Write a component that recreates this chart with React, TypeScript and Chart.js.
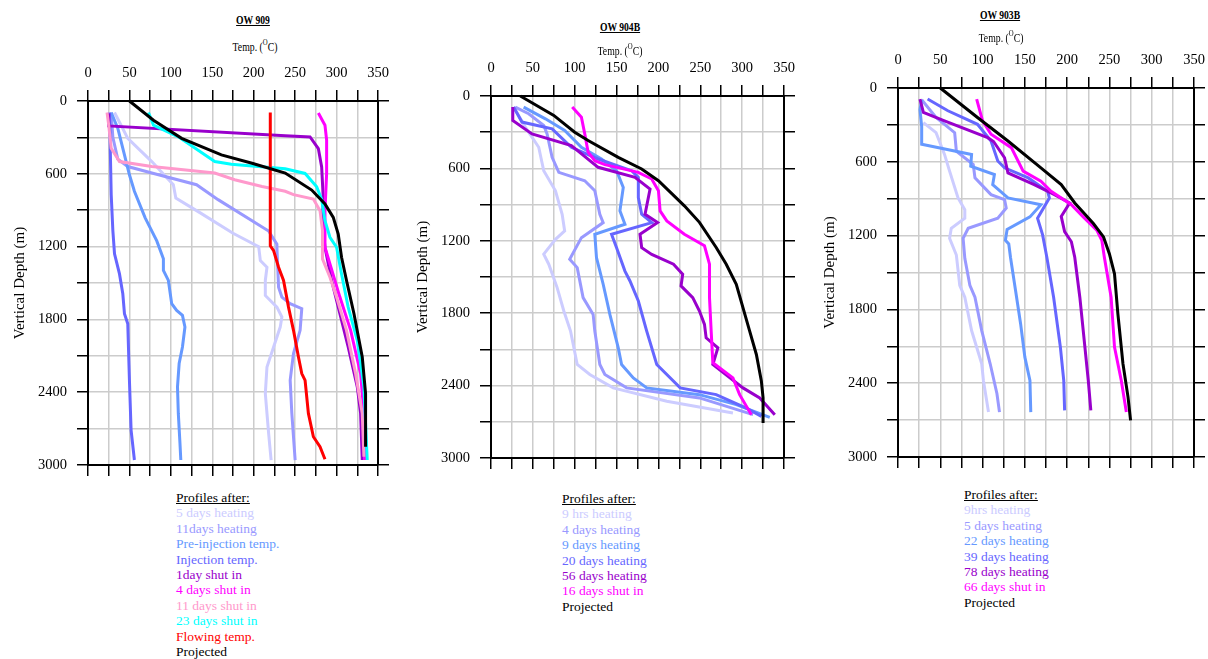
import React, { useEffect, useRef } from "react";
import { Chart, registerables } from "chart.js";

Chart.register(...registerables);

// ---------- axis config values ----------
const TEMP_MIN = 0;
const TEMP_MAX = 350;
const TEMP_STEP = 25;
const TEMP_LABEL_EVERY = 50;
const DEPTH_MIN = 0;
const DEPTH_MAX = 3000;
const DEPTH_STEP = 300;
const DEPTH_LABEL_EVERY = 600;

// ---------- colours ----------
const C_LAV1 = "#ccccff";
const C_LAV2 = "#9999ff";
const C_CORN = "#6699ff";
const C_SLATE = "#6666ff";
const C_PURPLE = "#9900cc";
const C_MAG = "#ff00ff";
const C_PINK = "#ff99cc";
const C_CYAN = "#00ffff";
const C_RED = "#ff0000";
const C_BLACK = "#000000";

// ---------- OW 909 : [temp °C, depth m] ----------
const OW909_5D_HEAT: [number, number][] = [[32,95],[48,308],[77,499],[103,690],[106,800],[135,920],[175,1090],[206,1200],[208,1315],[216,1370],[214,1479],[214,1603],[228,1699],[234,1781],[232,1863],[224,2027],[216,2192],[214,2411],[218,2740],[221,2959]];
const OW909_11D_HEAT: [number, number][] = [[28,95],[30,300],[36,480],[48,540],[77,594],[131,690],[157,813],[218,1072],[228,1181],[228,1205],[230,1534],[234,1616],[244,1671],[258,1712],[256,1890],[248,2082],[244,2301],[246,2575],[250,2959]];
const OW909_PRE_INJ: [number, number][] = [[28,95],[36,226],[44,444],[50,608],[56,744],[69,963],[83,1153],[91,1301],[91,1397],[97,1479],[101,1671],[107,1726],[114,1767],[117,1863],[114,2027],[110,2164],[108,2356],[109,2575],[111,2822],[112,2959]];
const OW909_INJ: [number, number][] = [[26,95],[28,771],[30,1068],[32,1260],[38,1425],[42,1589],[44,1753],[48,1836],[50,2301],[52,2712],[56,2959]];
const OW909_1D_SHUT: [number, number][] = [[25,104],[25,205],[238,286],[268,296],[278,392],[282,543],[284,811],[283,1000],[286,1205],[294,1479],[304,1753],[314,2027],[325,2356],[329,2575],[331,2959]];
const OW909_4D_SHUT: [number, number][] = [[278,99],[286,200],[288,323],[288,597],[286,900],[286,1205],[292,1342],[304,1616],[317,1890],[329,2247],[333,2575],[334,2959]];
const OW909_11D_SHUT: [number, number][] = [[23,95],[25,199],[28,390],[38,499],[77,540],[153,594],[177,649],[210,704],[238,744],[248,772],[272,808],[280,904],[283,1068],[283,1301],[292,1452],[300,1616],[312,1890],[323,2247],[331,2575],[333,2932]];
const OW909_23D_SHUT: [number, number][] = [[73,95],[79,199],[109,295],[153,499],[173,521],[238,559],[262,597],[276,707],[282,811],[286,986],[292,1123],[300,1205],[306,1425],[314,1699],[325,1973],[333,2356],[337,2959]];
const OW909_FLOWING: [number, number][] = [[220,95],[220,1194],[224,1233],[230,1370],[236,1479],[242,1699],[248,1890],[254,2110],[258,2247],[262,2302],[266,2575],[272,2767],[280,2849],[286,2953]];
const OW909_PROJ: [number, number][] = [[50,0],[79,158],[113,308],[161,444],[198,513],[238,594],[270,734],[286,849],[296,959],[302,1096],[306,1288],[312,1479],[321,1753],[331,2110],[335,2411],[335,2849]];

// ---------- OW 904B ----------
const OW904_9H_HEAT: [number, number][] = [[27,92],[41,258],[57,425],[63,619],[77,785],[85,980],[88,1118],[77,1188],[63,1311],[69,1394],[79,1588],[87,1782],[95,1948],[103,2225],[118,2308],[146,2419],[210,2530],[289,2627]];
const OW904_4D_HEAT: [number, number][] = [[29,92],[45,147],[63,244],[67,314],[73,508],[81,633],[112,702],[124,785],[130,980],[134,1049],[108,1174],[94,1354],[103,1422],[110,1671],[122,1810],[124,1948],[130,2225],[136,2308],[162,2419],[249,2502],[313,2641]];
const OW904_9D_HEAT: [number, number][] = [[39,92],[65,189],[88,286],[108,425],[132,522],[150,619],[158,758],[154,952],[160,1063],[124,1146],[126,1339],[134,1560],[142,1810],[152,2087],[156,2225],[170,2336],[186,2419],[249,2475],[293,2558],[333,2663]];
const OW904_20D_HEAT: [number, number][] = [[27,92],[37,216],[73,272],[96,425],[128,522],[168,619],[176,674],[176,841],[180,980],[192,1049],[144,1146],[150,1257],[160,1451],[166,1533],[176,1699],[186,1948],[198,2225],[226,2419],[269,2475],[305,2586],[323,2655]];
const OW904_56D_HEAT: [number, number][] = [[26,92],[26,203],[49,314],[96,411],[128,591],[172,674],[190,771],[184,980],[199,1049],[178,1146],[180,1257],[192,1313],[218,1394],[229,1477],[227,1574],[241,1671],[249,1782],[255,1893],[257,2004],[271,2087],[265,2225],[301,2419],[321,2502],[339,2641]];
const OW904_16D_SHUT: [number, number][] = [[97,92],[108,175],[112,314],[116,466],[124,536],[136,569],[176,633],[192,688],[200,785],[202,952],[210,1035],[231,1146],[255,1241],[261,1394],[261,1671],[263,1948],[265,2211],[289,2336],[297,2475],[311,2641]];
const OW904_PROJ: [number, number][] = [[35,0],[75,161],[100,300],[116,369],[152,508],[180,605],[200,702],[231,910],[249,1047],[269,1255],[281,1394],[293,1560],[309,1948],[317,2142],[323,2364],[325,2502],[325,2710]];

// ---------- OW 903B ----------
const OW903_9H_HEAT: [number, number][] = [[30,281],[45,363],[55,540],[61,676],[71,894],[79,990],[79,1058],[63,1140],[61,1222],[69,1358],[73,1604],[79,1701],[87,1972],[99,2242],[101,2378],[107,2635]];
const OW903_5D_HEAT: [number, number][] = [[28,95],[45,240],[67,363],[69,513],[89,622],[91,731],[110,867],[126,908],[128,976],[118,1058],[83,1140],[77,1222],[79,1385],[85,1604],[91,1701],[99,1972],[109,2242],[117,2486],[120,2635]];
const OW903_22D_HEAT: [number, number][] = [[28,95],[26,177],[28,313],[28,458],[87,540],[86,635],[114,704],[112,785],[130,894],[169,949],[156,1048],[129,1150],[127,1238],[131,1268],[133,1376],[139,1647],[145,1918],[150,2188],[156,2378],[157,2635]];
const OW903_39D_HEAT: [number, number][] = [[35,90],[59,185],[94,295],[110,431],[118,594],[126,649],[154,731],[177,840],[179,894],[165,1058],[171,1194],[176,1376],[184,1701],[192,2107],[196,2378],[197,2621]];
const OW903_78D_HEAT: [number, number][] = [[26,90],[30,199],[55,267],[106,404],[113,435],[126,567],[130,690],[161,785],[185,867],[203,935],[193,1044],[197,1167],[205,1250],[209,1376],[215,1701],[221,2107],[225,2378],[228,2621]];
const OW903_66D_SHUT: [number, number][] = [[93,90],[100,267],[110,376],[134,485],[148,676],[169,758],[181,840],[205,949],[219,1048],[235,1156],[241,1238],[244,1376],[252,1701],[256,2107],[264,2378],[270,2635]];
const OW903_PROJ: [number, number][] = [[50,0],[94,240],[130,431],[169,649],[193,785],[209,935],[231,1102],[243,1211],[250,1349],[256,1511],[260,1836],[266,2242],[272,2513],[275,2702]];

type Series = { label: string; color: string; pts: [number, number][] };
type PanelCfg = {
  title: string;
  titlePos: [number, number];
  tempPos: [number, number];
  plot: { l: number; t: number; r: number; b: number };
  legendPos: [number, number];
  series: Series[];
};

const PANELS: PanelCfg[] = [
  {
    title: "OW 909",
    titlePos: [253, 20],
    tempPos: [255, 46],
    plot: { l: 88, t: 101, r: 378, b: 465 },
    legendPos: [176, 490],
    series: [
      { label: "5 days heating", color: C_LAV1, pts: OW909_5D_HEAT },
      { label: "11days heating", color: C_LAV2, pts: OW909_11D_HEAT },
      { label: "Pre-injection temp.", color: C_CORN, pts: OW909_PRE_INJ },
      { label: "Injection temp.", color: C_SLATE, pts: OW909_INJ },
      { label: "1day shut in", color: C_PURPLE, pts: OW909_1D_SHUT },
      { label: "4 days shut in", color: C_MAG, pts: OW909_4D_SHUT },
      { label: "11 days shut in", color: C_PINK, pts: OW909_11D_SHUT },
      { label: "23 days shut in", color: C_CYAN, pts: OW909_23D_SHUT },
      { label: "Flowing temp.", color: C_RED, pts: OW909_FLOWING },
      { label: "Projected", color: C_BLACK, pts: OW909_PROJ },
    ],
  },
  {
    title: "OW 904B",
    titlePos: [620, 27],
    tempPos: [620, 50],
    plot: { l: 491, t: 96, r: 784, b: 458 },
    legendPos: [562, 491],
    series: [
      { label: "9 hrs heating", color: C_LAV1, pts: OW904_9H_HEAT },
      { label: "4 days heating", color: C_LAV2, pts: OW904_4D_HEAT },
      { label: "9 days heating", color: C_CORN, pts: OW904_9D_HEAT },
      { label: "20 days heating", color: C_SLATE, pts: OW904_20D_HEAT },
      { label: "56 days heating", color: C_PURPLE, pts: OW904_56D_HEAT },
      { label: "16 days shut in", color: C_MAG, pts: OW904_16D_SHUT },
      { label: "Projected", color: C_BLACK, pts: OW904_PROJ },
    ],
  },
  {
    title: "OW 903B",
    titlePos: [1000, 15],
    tempPos: [1001, 37],
    plot: { l: 898, t: 88, r: 1194, b: 457 },
    legendPos: [964, 487],
    series: [
      { label: "9hrs heating", color: C_LAV1, pts: OW903_9H_HEAT },
      { label: "5 days heating", color: C_LAV2, pts: OW903_5D_HEAT },
      { label: "22 days heating", color: C_CORN, pts: OW903_22D_HEAT },
      { label: "39 days heating", color: C_SLATE, pts: OW903_39D_HEAT },
      { label: "78 days heating", color: C_PURPLE, pts: OW903_78D_HEAT },
      { label: "66 days shut in", color: C_MAG, pts: OW903_66D_SHUT },
      { label: "Projected", color: C_BLACK, pts: OW903_PROJ },
    ],
  },
];

const LEFT_W = 88;
const TOP_H = 45;
const RIGHT_W = 14;
const BOTTOM_H = 14;
const SERIF = '"Liberation Serif", "Times New Roman", serif';
const GRID_COLOR = "#cccccc";
const TICK_LEN = 11;

function ChartPanel({ p }: { p: PanelCfg }) {
  const ref = useRef<HTMLCanvasElement | null>(null);
  const w = p.plot.r - p.plot.l + LEFT_W + RIGHT_W;
  const h = p.plot.b - p.plot.t + TOP_H + BOTTOM_H;

  useEffect(() => {
    if (!ref.current) return;
    const tickFont = { family: SERIF, size: 14.5 };
    const gridBase = { color: GRID_COLOR, lineWidth: 1.5, tickColor: "#000", tickLength: TICK_LEN, tickWidth: 1.5 };
    const border = { color: "#000", width: 2 };
    const n = p.series.length;
    const chart = new Chart(ref.current, {
      type: "scatter",
      data: {
        datasets: p.series.map((s, i) => ({
          label: s.label,
          data: s.pts.map(([x, y]) => ({ x, y })),
          borderColor: s.color,
          backgroundColor: s.color,
          showLine: true,
          pointRadius: 0,
          pointHoverRadius: 0,
          borderWidth: 3,
          tension: 0,
          order: n - i,
          clip: false as any,
        })),
      },
      options: {
        responsive: false,
        animation: false,
        maintainAspectRatio: false,
        layout: { padding: 0 },
        events: [],
        plugins: { legend: { display: false }, tooltip: { enabled: false }, title: { display: false } },
        scales: {
          x: {
            type: "linear",
            position: "top",
            min: TEMP_MIN,
            max: TEMP_MAX,
            ticks: {
              stepSize: TEMP_STEP,
              autoSkip: false,
              maxRotation: 0,
              padding: 8.5,
              color: "#000",
              font: tickFont,
              callback: (v: any) => (Number(v) % TEMP_LABEL_EVERY === 0 ? String(v) : ""),
            },
            grid: { ...gridBase },
            border,
            afterFit: (s: any) => { s.height = TOP_H; s.paddingLeft = 0; s.paddingRight = 0; },
          },
          x2: {
            type: "linear",
            position: "bottom",
            min: TEMP_MIN,
            max: TEMP_MAX,
            ticks: { stepSize: TEMP_STEP, autoSkip: false, display: false },
            grid: { ...gridBase, drawOnChartArea: false },
            border,
            afterFit: (s: any) => { s.height = BOTTOM_H; s.paddingLeft = 0; s.paddingRight = 0; },
          },
          y: {
            type: "linear",
            position: "left",
            reverse: true,
            min: DEPTH_MIN,
            max: DEPTH_MAX,
            ticks: {
              stepSize: DEPTH_STEP,
              autoSkip: false,
              padding: 10,
              color: "#000",
              font: tickFont,
              callback: (v: any) => (Number(v) % DEPTH_LABEL_EVERY === 0 ? String(v) : ""),
            },
            grid: { ...gridBase },
            border,
            title: {
              display: true,
              text: "Vertical Depth (m)",
              color: "#000",
              font: { family: SERIF, size: 15 },
              padding: { top: 11, bottom: 0 },
            },
            afterFit: (s: any) => { s.width = LEFT_W; s.paddingTop = 0; s.paddingBottom = 0; },
          },
          y2: {
            type: "linear",
            position: "right",
            reverse: true,
            min: DEPTH_MIN,
            max: DEPTH_MAX,
            ticks: { stepSize: DEPTH_STEP, autoSkip: false, display: false },
            grid: { ...gridBase, drawOnChartArea: false },
            border,
            afterFit: (s: any) => { s.width = RIGHT_W; s.paddingTop = 0; s.paddingBottom = 0; },
          },
        },
      } as any,
    });
    return () => chart.destroy();
  }, []);

  return (
    <>
      <canvas
        ref={ref}
        width={w}
        height={h}
        style={{ position: "absolute", left: p.plot.l - LEFT_W, top: p.plot.t - TOP_H, width: w, height: h }}
      />
      <div
        style={{
          position: "absolute",
          left: p.titlePos[0],
          top: p.titlePos[1],
          transform: "translate(-50%, -50%) scaleX(0.74)",
          font: `bold 13px ${SERIF}`,
          textDecoration: "underline",
          whiteSpace: "nowrap",
          color: "#000",
        }}
      >
        {p.title}
      </div>
      <div
        style={{
          position: "absolute",
          left: p.tempPos[0],
          top: p.tempPos[1],
          transform: "translate(-50%, -50%) scaleX(0.75)",
          font: `13px ${SERIF}`,
          whiteSpace: "nowrap",
          color: "#000",
        }}
      >
        Temp. (<sup style={{ fontSize: "9px" }}>O</sup>C)
      </div>
      <div
        style={{
          position: "absolute",
          left: p.legendPos[0],
          top: p.legendPos[1],
          font: `13.5px ${SERIF}`,
          lineHeight: "15.4px",
          whiteSpace: "nowrap",
        }}
      >
        <div style={{ color: "#000", textDecoration: "underline" }}>Profiles after:</div>
        {p.series.map((s) => (
          <div key={s.label} style={{ color: s.color }}>{s.label}</div>
        ))}
      </div>
    </>
  );
}

export default function App() {
  return (
    <div style={{ position: "absolute", left: 0, top: 0, width: 1208, height: 659, background: "#fff", overflow: "hidden" }}>
      {PANELS.map((p) => (
        <ChartPanel key={p.title} p={p} />
      ))}
    </div>
  );
}
